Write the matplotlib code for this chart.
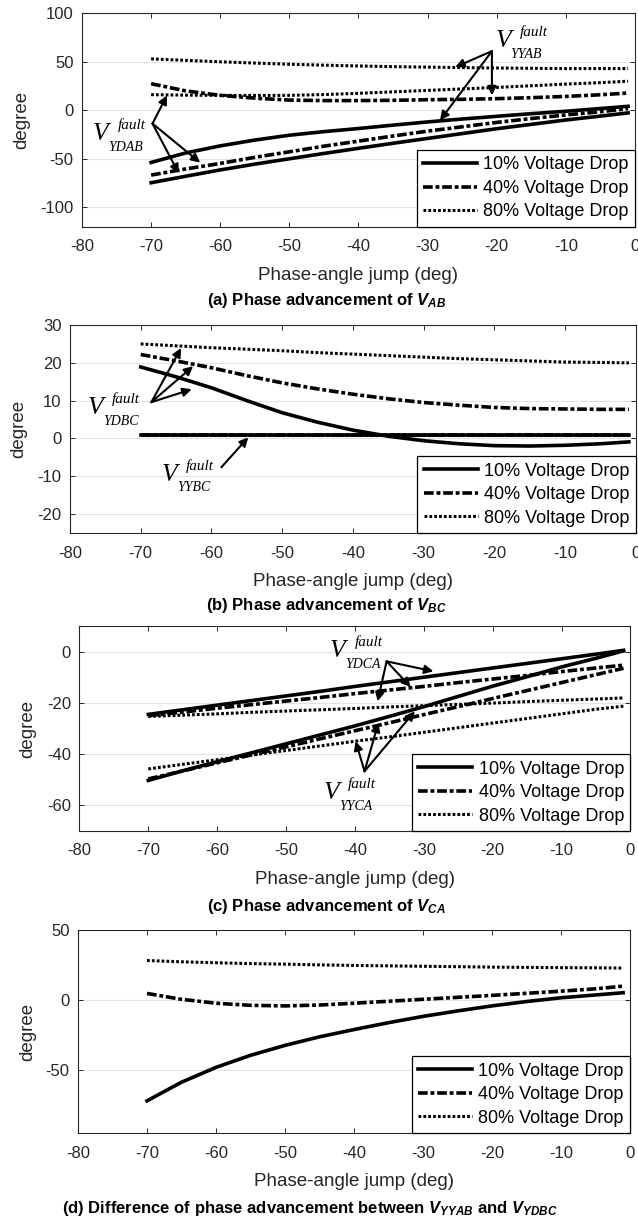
import numpy as np
import matplotlib
matplotlib.use('Agg')
import matplotlib.pyplot as plt

plt.rcParams['font.family'] = ['Liberation Sans', 'DejaVu Sans']
plt.rcParams['mathtext.fontset'] = 'custom'
plt.rcParams['mathtext.rm'] = 'Liberation Sans:bold'
plt.rcParams['mathtext.bf'] = 'Liberation Sans:bold'
plt.rcParams['mathtext.it'] = 'Liberation Sans:italic:bold'
plt.rcParams['lines.scale_dashes'] = False
plt.rcParams['axes.unicode_minus'] = False

# phase-angle jump (deg)
jump = [-70, -65, -60, -55, -50, -45, -40, -35, -30, -25, -20, -15, -10, -5, -1]

# (a) V_AB
yy_ab_10 = [-53.8, -44, -36.7, -30.7, -25.7, -22, -18.8, -15.3, -12, -9, -6.2, -3.5, -1, 1.8, 4.1]
yy_ab_40 = [27.4, 20, 15.4, 12.5, 10.5, 10, 10, 10.3, 10.9, 11.3, 12, 13, 14.3, 16, 17.8]
yy_ab_80 = [53, 51.5, 50, 48.7, 47.5, 46.5, 45.7, 45, 44.5, 44, 43.6, 43.3, 43, 43, 43]
yd_ab_10 = [-74.7, -68, -61.5, -55.5, -50, -44.5, -39.2, -34, -29, -24, -19, -14.5, -10, -6, -2.7]
yd_ab_40 = [-66.8, -60.5, -54.8, -48.5, -42.8, -37, -31.8, -26.5, -21.5, -17, -12.5, -8.5, -4.8, -1.5, 1.7]
yd_ab_80 = [16.1, 15.6, 15.4, 15.3, 15.4, 16.2, 17.5, 19, 20.5, 22, 23.6, 25.3, 27, 28.5, 30]

# (b) V_BC
yy_bc_10 = [0.9, 0.9, 0.9, 0.9, 0.9, 0.9, 0.9, 0.9, 0.9, 0.9, 0.9, 0.9, 0.9, 0.9, 0.9]
yy_bc_40 = [0.9, 0.9, 0.9, 0.9, 0.9, 0.9, 0.9, 0.9, 0.9, 0.9, 0.9, 0.9, 0.9, 0.9, 0.9]
yy_bc_80 = [0.9, 0.9, 0.9, 0.9, 0.9, 0.9, 0.9, 0.9, 0.9, 0.9, 0.9, 0.9, 0.9, 0.9, 0.9]
yd_bc_10 = [18.9, 16.3, 13.4, 10, 6.8, 4.3, 2.2, 0.6, -0.6, -1.4, -1.9, -2.0, -1.8, -1.4, -0.9]
yd_bc_40 = [22.2, 20.5, 18.7, 16.6, 14.7, 13.1, 11.7, 10.5, 9.5, 8.8, 8.2, 7.9, 7.8, 7.7, 7.7]
yd_bc_80 = [25, 24.5, 24, 23.6, 23.2, 22.7, 22.3, 21.9, 21.5, 21.1, 20.8, 20.5, 20.2, 20.1, 20]

# (c) V_CA
yy_ca_10 = [-50.3, -46.5, -43, -39.5, -36, -32.5, -29, -25.3, -21.5, -17.5, -13.5, -9.8, -6, -2.6, 0.3]
yy_ca_40 = [-49.7, -46.6, -43.4, -40.3, -37.2, -34, -30.9, -27.8, -24.6, -21.5, -18.3, -15.2, -12.1, -9, -6.5]
yy_ca_80 = [-45.8, -44, -42.2, -40.4, -38.6, -36.8, -35, -33.3, -31.5, -29.7, -27.9, -26.1, -24.3, -22.5, -21.3]
yd_ca_10 = [-24.5, -22.7, -20.9, -19.1, -17.3, -15.5, -13.6, -11.8, -10, -8.2, -6.4, -4.6, -2.8, -1, 0.5]
yd_ca_40 = [-25, -23.6, -22.1, -20.7, -19.3, -17.9, -16.4, -15, -13.6, -12.1, -10.7, -9.3, -7.8, -6.4, -5.3]
yd_ca_80 = [-25.3, -24.8, -24.3, -23.7, -23.2, -22.7, -22.2, -21.6, -21.1, -20.6, -20.1, -19.5, -19, -18.5, -18.1]

# (d) V_YYAB - V_YDBC
diff_10 = [-72, -58.7, -48.1, -39.5, -32.4, -26.3, -21.1, -16.2, -11.7, -7.8, -4.2, -1.1, 1.6, 3.6, 5.2]
diff_40 = [4.7, 0.5, -2.3, -3.8, -4.2, -3.6, -2.3, -0.9, 0.5, 1.9, 3.3, 4.8, 6.3, 8, 9.9]
diff_80 = [28.2, 27.3, 26.6, 26, 25.6, 25.1, 24.7, 24.4, 24.1, 23.8, 23.5, 23.3, 23.1, 23, 22.8]

labels = ['10% Voltage Drop', '40% Voltage Drop', '80% Voltage Drop']
xticks = [-80, -70, -60, -50, -40, -30, -20, -10, 0]

styles = [dict(color='k', lw=2.6, ls='-'),
          dict(color='k', lw=2.6, dashes=[7, 2, 2.8, 2]),
          dict(color='k', lw=2.2, dashes=[2.0, 1.5])]
gray = '#262626'

fig = plt.figure(figsize=(6.38, 12.2), dpi=100)


def setup(ax, ylim, yticks, ylab_x):
    ax.set_xlim(-80, 0)
    ax.set_ylim(*ylim)
    ax.set_xticks(xticks)
    ax.set_yticks(yticks)
    ax.tick_params(direction='in', top=True, right=True, length=3.5, width=0.7,
                   labelsize=12, colors=gray)
    ax.tick_params(axis='x', pad=9)
    ax.tick_params(axis='y', pad=6)
    for s in ax.spines.values():
        s.set_color(gray)
        s.set_linewidth(0.8)
    ax.grid(axis='y', color='#e2e2e2', lw=0.8)
    ax.set_axisbelow(True)
    ax.set_xlabel('Phase-angle jump (deg)', fontsize=13.5, color=gray, labelpad=9)
    ax.set_ylabel('degree', fontsize=13.5, color=gray)
    ax.yaxis.set_label_coords(ylab_x, 0.5)


def draw(ax, groups):
    lines = []
    for grp in groups:
        for vals, st in zip(grp, styles):
            ln, = ax.plot(jump, vals, **st)
            lines.append(ln)
    leg = ax.legend(lines[:3], labels, loc='lower right', fontsize=13,
                    borderaxespad=0, frameon=True, fancybox=False,
                    handlelength=3.0, handletextpad=0.35, labelspacing=0.36,
                    borderpad=0.35)
    leg.get_frame().set_edgecolor('k')
    leg.get_frame().set_linewidth(0.9)
    leg.get_frame().set_alpha(1)


def vlabel(ax, x, y, sub):
    kw = dict(family='Liberation Serif', style='italic', color='k', ha='left', va='baseline')
    ax.text(x, y, 'V', fontsize=18.5, **kw)
    ax.annotate('fault', (x, y), xytext=(17.5, 8), textcoords='offset points', fontsize=11, **kw)
    ax.annotate(sub, (x, y), xytext=(11, -7.5), textcoords='offset points', fontsize=10, **kw)


def arrows(ax, origin, tips):
    for t in tips:
        ax.annotate('', xy=t, xytext=origin,
                    arrowprops=dict(arrowstyle='-|>', color='k', lw=1.5,
                                    mutation_scale=13, shrinkA=0, shrinkB=0))


# (a)
ax1 = fig.add_axes([0.1285, 0.8142, 0.8668, 0.1749])
setup(ax1, (-120, 100), [-100, -50, 0, 50, 100], -0.094)
draw(ax1, [[yy_ab_10, yy_ab_40, yy_ab_80], [yd_ab_10, yd_ab_40, yd_ab_80]])
vlabel(ax1, -78.4, -30.8, 'YDAB')
arrows(ax1, (-69.8, -13.7), [(-67.7, 15.4), (-62.9, -54), (-66, -65)])
vlabel(ax1, -20.2, 65, 'YYAB')
arrows(ax1, (-20.7, 61), [(-26, 44.5), (-20.7, 15.4), (-28.2, -10.3)])

# (b)
ax2 = fig.add_axes([0.1097, 0.5631, 0.8871, 0.1705])
setup(ax2, (-25, 30), [-20, -10, 0, 10, 20, 30], -0.076)
draw(ax2, [[yd_bc_10, yd_bc_40, yd_bc_80], [yy_bc_80, yy_bc_40, yy_bc_10]])
vlabel(ax2, -77.5, 6.4, 'YDBC')
arrows(ax2, (-68.5, 9.6), [(-64.3, 23.9), (-62.6, 19.1), (-62.8, 13.0)])
vlabel(ax2, -67.0, -11.2, 'YYBC')
arrows(ax2, (-58.6, -7.6), [(-54.8, 0.3)])

# (c)
ax3 = fig.add_axes([0.1245, 0.3189, 0.8636, 0.1680])
setup(ax3, (-70, 10), [-60, -40, -20, 0], -0.0785)
draw(ax3, [[yy_ca_10, yy_ca_40, yy_ca_80], [yd_ca_10, yd_ca_40, yd_ca_80]])
vlabel(ax3, -43.6, -2.3, 'YDCA')
arrows(ax3, (-35.4, -3.8), [(-28.6, -7.7), (-31.9, -13.8), (-36.7, -19.4)])
vlabel(ax3, -44.5, -57.7, 'YYCA')
arrows(ax3, (-38.6, -46.7), [(-39.9, -35), (-36.6, -27.8), (-31.3, -23.3)])

# (d)
ax4 = fig.add_axes([0.1223, 0.0713, 0.8652, 0.1664])
setup(ax4, (-95, 50), [-50, 0, 50], -0.076)
draw(ax4, [[diff_10, diff_40, diff_80]])

cap = dict(fontsize=12, fontweight='bold', ha='center', va='center', color='k')
fig.text(0.512, 1 - 300 / 1220, r'(a) Phase advancement of $V_{AB}$', **cap)
fig.text(0.512, 1 - 605 / 1220, r'(b) Phase advancement of $V_{BC}$', **cap)
fig.text(0.512, 1 - 907 / 1220, r'(c) Phase advancement of $V_{CA}$', **cap)
fig.text(0.486, 1 - 1208 / 1220,
         r'(d) Difference of phase advancement between $V_{YYAB}$ and $V_{YDBC}$', **cap)

fig.savefig('out.png', dpi=100)
